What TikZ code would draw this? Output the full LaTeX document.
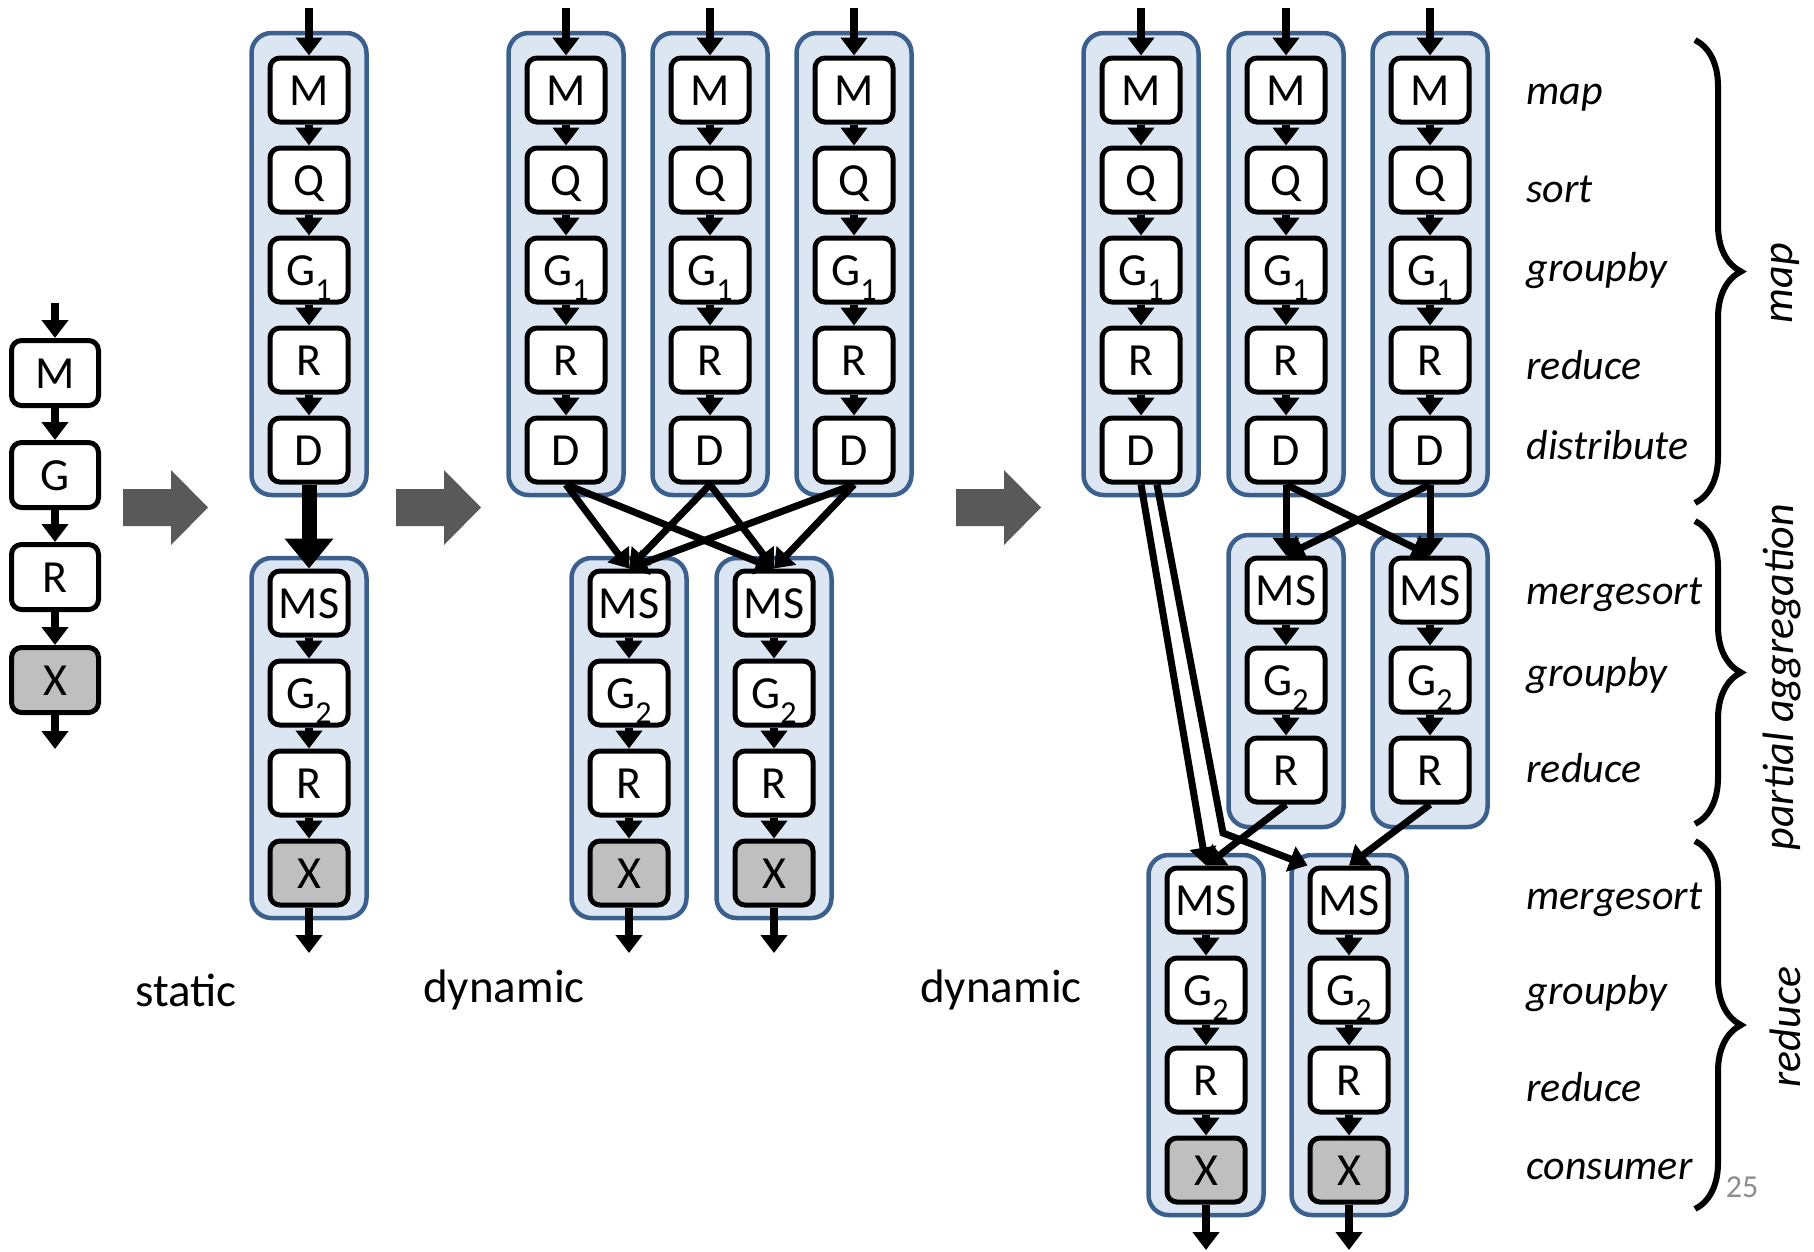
\documentclass[tikz,border=0pt]{standalone}
\usepackage{fontspec}
\setmainfont{Carlito}
\usepackage{tikz}
\usetikzlibrary{arrows.meta, calc, decorations.pathreplacing}

\definecolor{groupblue}{RGB}{60,96,142}
\definecolor{groupfill}{RGB}{220,230,242}
\definecolor{sinkgray}{RGB}{191,191,191}
\definecolor{stagegray}{RGB}{89,89,89}
\definecolor{pagegray}{RGB}{140,140,140}

\newcommand\lowsub[1]{\raisebox{-15pt}{\fontsize{32}{32}\selectfont #1}}

\tikzset{
    opnode/.style = {draw, rectangle, rounded corners=10pt, line width=5pt, fill=white,
      minimum width=78pt, minimum height=64pt, inner sep=0pt, text height=30pt, text depth=0pt,
      font=\fontsize{46}{50}\selectfont},
    sinknode/.style = {opnode, fill=sinkgray},
    chainnode/.style = {opnode, minimum width=87pt, minimum height=65pt},
    groupbox/.style = {draw=groupblue, fill=groupfill, line width=4.5pt, rounded corners=20pt,
      minimum width=115pt, inner sep=0pt},
    flow/.style = {line width=8pt, -{Triangle[width=26pt, length=18pt]}},
    link/.style = {line width=7pt, -{Triangle[width=26pt, length=18pt]}},
    bulk/.style = {line width=15pt, -{Triangle[width=47pt, length=30pt]}},
    stagelabel/.style = {font=\fontsize{47}{50}\selectfont},
    phaselabel/.style = {anchor=base west, font=\itshape\fontsize{42}{46}\selectfont},
    partlabel/.style = {rotate=90, font=\itshape\fontsize{44}{48}\selectfont},
    bracket/.style = {decorate, decoration={brace, amplitude=46pt}, line width=6pt}
}

\begin{document}
\begin{tikzpicture}[x=1pt, y=-1pt]
    \useasboundingbox (0,0) rectangle (1814,1251);

    \node [name=Mo, chainnode] at (55,373) {M};
    \node [name=Go, chainnode] at (55,475) {G};
    \node [name=Ro, chainnode] at (55,577) {R};
    \node [name=Xo, chainnode, fill=sinkgray] at (55,680) {X};
    \coordinate (ino) at (55,303);
    \coordinate (outo) at (55,749);
    \draw [flow] (ino) -- (Mo);
    \draw [flow] (Mo) -- (Go);
    \draw [flow] (Go) -- (Ro);
    \draw [flow] (Ro) -- (Xo);
    \draw [flow] (Xo) -- (outo);

    \foreach \x in {123, 396, 956}
        \fill [stagegray] (\x,489) -- ++(48,0) -- ++(0,-19) -- ++(37,37.5) -- ++(-37,37.5) -- ++(0,-19) -- ++(-48,0) -- cycle;

    \foreach \c/\x in {s/309, a/566, b/710, c/854, d/1141, e/1286, f/1430} {
        \node [name=map\c, groupbox, minimum height=462pt] at (\x,264) {};
        \node [name=M\c, opnode] at (\x,90) {M};
        \node [name=Q\c, opnode] at (\x,180) {Q};
        \node [name=Ga\c, opnode] at (\x,270) {G\lowsub{1}};
        \node [name=Ra\c, opnode] at (\x,360) {R};
        \node [name=D\c, opnode] at (\x,450) {D};
        \coordinate (in\c) at (\x,8);
        \draw [flow] (in\c) -- (M\c);
        \draw [flow] (M\c) -- (Q\c);
        \draw [flow] (Q\c) -- (Ga\c);
        \draw [flow] (Ga\c) -- (Ra\c);
        \draw [flow] (Ra\c) -- (D\c);
    }

    \foreach \c/\x/\y in {s/309/603, a/629/603, b/774/603, g/1206/900, h/1349/900} {
        \node [name=red\c, groupbox, minimum height=360pt] at (\x,\y+135) {};
        \node [name=MS\c, opnode] at (\x,\y) {MS};
        \node [name=Gb\c, opnode] at (\x,\y+90) {G\lowsub{2}};
        \node [name=Rb\c, opnode] at (\x,\y+180) {R};
        \node [name=X\c, sinknode] at (\x,\y+270) {X};
        \coordinate (out\c) at (\x,\y+350);
        \draw [flow] (MS\c) -- (Gb\c);
        \draw [flow] (Gb\c) -- (Rb\c);
        \draw [flow] (Rb\c) -- (X\c);
        \draw [flow] (X\c) -- (out\c);
    }

    \foreach \c/\x in {e/1286, f/1430} {
        \node [name=agg\c, groupbox, minimum height=292pt] at (\x,681) {};
        \node [name=MSp\c, opnode] at (\x,590) {MS};
        \node [name=Gp\c, opnode] at (\x,680) {G\lowsub{2}};
        \node [name=Rp\c, opnode] at (\x,770) {R};
        \draw [flow] (MSp\c) -- (Gp\c);
        \draw [flow] (Gp\c) -- (Rp\c);
    }

    \draw [bulk] (Ds) -- (MSs);
    \foreach \from in {a, b, c} {
        \draw [link] (D\from.south) -- (MSa.north);
        \draw [link] (D\from.south) -- (MSb.north);
    }
    \foreach \from in {e, f} {
        \draw [link] (D\from.south) -- (MSpe.north);
        \draw [link] (D\from.south) -- (MSpf.north);
    }
    \coordinate (detour) at (1223,833);
    \draw [link] (Dd.south) -- (MSg.north);
    \draw [link] ($(Dd.south)+(16,0)$) -- (detour) -- (MSh.north west);
    \draw [link] (Rpe.south) -- (MSg.north);
    \draw [link] (Rpf.south) -- (MSh.north);

    \node [name=lstatic, stagelabel] at (186,990) {static};
    \node [name=ldynamic, stagelabel] at (504,990) {dynamic};
    \node [name=ldynamicb, stagelabel] at (1001,990) {dynamic};

    \foreach \y/\t [count=\i] in {104/map, 202/sort, 281/groupby, 379/reduce, 459/distribute,
        604/mergesort, 686/groupby, 782/reduce, 909/mergesort, 1004/groupby, 1101/reduce, 1179/consumer}
        \node [name=phase\i, phaselabel] at (1523,\y) {\t};

    \draw [bracket] (1695,40) -- (1695,503);
    \draw [bracket] (1695,521) -- (1695,824);
    \draw [bracket] (1695,841) -- (1695,1209);
    \node [name=pmap, partlabel] at (1785,283) {map};
    \node [name=ppartial, partlabel] at (1782,677) {partial aggregation};
    \node [name=preduce, partlabel] at (1785,1027) {reduce};

    \node [name=pagenum, text=pagegray, font=\fontsize{32}{34}\selectfont] at (1742,1187) {25};
\end{tikzpicture}
\end{document}
